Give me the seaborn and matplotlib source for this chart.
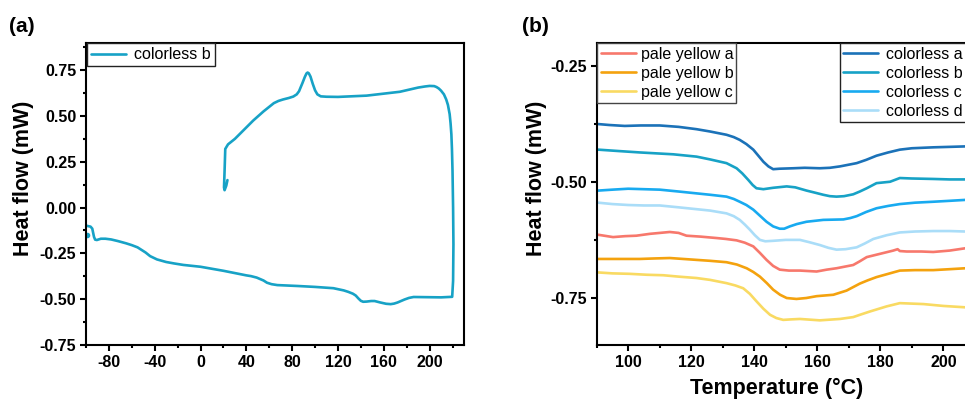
import numpy as np
import pandas as pd
import matplotlib
matplotlib.use("Agg")
import matplotlib.pyplot as plt
from matplotlib.ticker import MultipleLocator
from matplotlib.lines import Line2D
import seaborn as sns

# ---------------- data: panel (a) ----------------
a_temp = [23.5, 22.5, 21.0, 20.5, 21.0, 21.6, 24, 30, 38, 46, 55, 60, 64, 68, 72, 77, 81, 84, 86,
          89, 91, 92.5, 93.5, 94.5, 96, 98, 100, 102, 105, 110, 120, 145, 174, 190, 196, 200, 204,
          206, 208, 210, 212.5, 214.5, 216, 217.5, 218.3, 219, 219.5, 220, 220.5,
          220.8, 220.5, 219.7, 210, 186, 182, 178, 175, 172, 169, 166, 162, 157, 152, 149, 145,
          142, 140, 138, 135.5, 133, 129, 125, 116, 100, 85, 67, 62, 58, 55, 52, 49, 44, 40, 20,
          0, -15, -23, -30, -38, -44, -48, -55, -60, -65, -72, -78, -83, -87, -90.5, -92, -93,
          -94.5, -96, -99, -100]
a_flow = [0.15, 0.12, 0.095, 0.11, 0.2, 0.32, 0.345, 0.375, 0.425, 0.475, 0.525, 0.55, 0.57,
          0.582, 0.59, 0.598, 0.606, 0.618, 0.635, 0.68, 0.712, 0.732, 0.737, 0.733, 0.715, 0.675,
          0.64, 0.618, 0.607, 0.605, 0.604, 0.611, 0.632, 0.655, 0.661, 0.664, 0.663, 0.658, 0.65,
          0.638, 0.618, 0.59, 0.56, 0.51, 0.46, 0.4, 0.32, 0.2, 0.0,
          -0.2, -0.4, -0.487, -0.49, -0.488, -0.493, -0.502, -0.51, -0.518, -0.524, -0.527,
          -0.525, -0.518, -0.51, -0.51, -0.513, -0.514, -0.509, -0.497, -0.48, -0.47, -0.46,
          -0.452, -0.44, -0.433, -0.428, -0.423, -0.418, -0.41, -0.398, -0.39, -0.382, -0.374,
          -0.37, -0.345, -0.323, -0.313, -0.305, -0.297, -0.283, -0.265, -0.245, -0.217, -0.205,
          -0.195, -0.183, -0.174, -0.170, -0.170, -0.177, -0.175, -0.16, -0.115, -0.104, -0.1,
          -0.098]
dot_temp = [-98.8]
dot_flow = [-0.15]

# ---------------- data: panel (b) ----------------
ca_temp = [90.5, 94, 98.9, 104, 110, 116, 121.7, 126, 131.2, 133.5, 135.4, 137.5, 139.7, 141.3, 142.9,
           144.5, 146, 148, 152.4, 156, 160.8, 164, 167.2, 172.5, 175.5, 178.8, 182.5, 186.2, 190,
           196.8, 202, 207]
ca_flow = [-0.375, -0.377, -0.379, -0.378, -0.378, -0.381, -0.386, -0.391, -0.398, -0.403, -0.409,
           -0.418, -0.430, -0.443, -0.456, -0.466, -0.472, -0.471, -0.470, -0.469, -0.470, -0.469,
           -0.466, -0.459, -0.452, -0.443, -0.436, -0.430, -0.427, -0.425, -0.424, -0.423]

cb_temp = [90.5, 97, 103.7, 109, 114.3, 121.7, 126, 131.2, 134.4, 136.2, 138.1, 139.5, 140.7, 142.9,
           146, 150.3, 153, 156.6, 159, 161.9, 164, 166.1, 168.5, 171.4, 173.5, 175.7, 178.8,
           183.1, 186.2, 190, 196.8, 202, 207]
cb_flow = [-0.430, -0.433, -0.436, -0.438, -0.440, -0.445, -0.451, -0.459, -0.470, -0.481, -0.495,
           -0.506, -0.513, -0.515, -0.512, -0.509, -0.511, -0.518, -0.522, -0.527, -0.530, -0.531,
           -0.530, -0.526, -0.520, -0.513, -0.502, -0.499, -0.491, -0.492, -0.493, -0.494, -0.494]

cc_temp = [90.5, 95, 100, 105, 110, 116, 121.7, 126, 131.2, 133.5, 135.4, 137.5, 139.7, 141.8,
           143.9, 146, 148.1, 149.5, 151.3, 153.5, 156.6, 161.9, 168.3, 170.5, 172.5, 175.5,
           178.8, 182.5, 186.2, 191, 196.8, 202, 207]
cc_flow = [-0.518, -0.516, -0.514, -0.515, -0.516, -0.520, -0.524, -0.527, -0.531, -0.536, -0.542,
           -0.549, -0.559, -0.572, -0.585, -0.595, -0.600, -0.600, -0.595, -0.590, -0.585, -0.581,
           -0.580, -0.577, -0.573, -0.564, -0.556, -0.551, -0.547, -0.544, -0.542, -0.540, -0.538]

cd_temp = [90.5, 95, 100, 105, 110, 116, 121.7, 126, 131.2, 133.5, 135.4, 137, 138.6, 140.2,
           141.8, 143.5, 146, 150, 154.5, 157.5, 160.8, 163.5, 166.1, 169, 172.5, 175, 177.8,
           182, 186.2, 191, 196.8, 202, 207]
cd_flow = [-0.544, -0.547, -0.549, -0.550, -0.550, -0.554, -0.558, -0.561, -0.567, -0.573, -0.581,
           -0.591, -0.602, -0.614, -0.624, -0.627, -0.626, -0.624, -0.624, -0.629, -0.635, -0.641,
           -0.645, -0.644, -0.640, -0.632, -0.622, -0.614, -0.608, -0.606, -0.605, -0.605, -0.606]

pa_temp = [90.5, 95.2, 99, 102.6, 106.9, 113.2, 116, 118.5, 123, 128, 131, 134.4, 137, 139.7, 141.8,
           143.9, 146, 148.1, 151, 154.5, 159.8, 163, 166.1, 171.4, 173.5, 175.7, 179.9, 184.1,
           185.5, 186.2, 188.4, 193, 196.8, 202, 207]
pa_flow = [-0.613, -0.618, -0.616, -0.615, -0.611, -0.607, -0.609, -0.615, -0.617, -0.620, -0.622,
           -0.625, -0.630, -0.638, -0.652, -0.667, -0.680, -0.688, -0.690, -0.690, -0.692, -0.688,
           -0.685, -0.678, -0.670, -0.661, -0.654, -0.647, -0.644, -0.648, -0.649, -0.649, -0.650,
           -0.647, -0.642]

pb_temp = [90.5, 97, 103.7, 108, 113.2, 121.7, 126, 131.2, 134.5, 137.6, 139.7, 141.8, 144, 146,
           148.2, 150.3, 153.4, 156.5, 159.8, 165.1, 169.3, 173.5, 176, 178.8, 182.5, 186.2,
           191, 196.8, 202, 207]
pb_flow = [-0.665, -0.665, -0.665, -0.664, -0.663, -0.667, -0.669, -0.672, -0.677, -0.685, -0.693,
           -0.703, -0.717, -0.731, -0.742, -0.749, -0.751, -0.749, -0.745, -0.742, -0.733, -0.718,
           -0.711, -0.704, -0.697, -0.690, -0.689, -0.689, -0.687, -0.685]

pc_temp = [90.5, 95, 100.5, 106, 111.1, 116, 121.7, 126, 131.2, 134, 136.5, 138.6, 140.7, 142.9,
           145, 147, 149.2, 151.5, 154.5, 160.8, 167.2, 171.4, 174, 176.7, 182, 186.2, 193.7,
           200, 207]
pc_flow = [-0.694, -0.696, -0.697, -0.699, -0.700, -0.703, -0.706, -0.710, -0.717, -0.722, -0.728,
           -0.740, -0.756, -0.772, -0.785, -0.792, -0.796, -0.795, -0.794, -0.797, -0.794, -0.790,
           -0.784, -0.778, -0.767, -0.760, -0.762, -0.766, -0.769]

b_series = [
    ("colorless a", ca_temp, ca_flow, "#1B72B8"),
    ("colorless b", cb_temp, cb_flow, "#17A2C6"),
    ("colorless c", cc_temp, cc_flow, "#18AAF0"),
    ("colorless d", cd_temp, cd_flow, "#AADDF8"),
    ("pale yellow a", pa_temp, pa_flow, "#F7786C"),
    ("pale yellow b", pb_temp, pb_flow, "#F4A20E"),
    ("pale yellow c", pc_temp, pc_flow, "#F9DA62"),
]

# ---------------- style ----------------
sns.set_theme(style="ticks")
plt.rcParams["font.family"] = ["Liberation Sans", "DejaVu Sans"]
plt.rcParams["axes.unicode_minus"] = False
plt.rcParams["text.color"] = "black"
plt.rcParams["axes.labelcolor"] = "black"
plt.rcParams["axes.linewidth"] = 1.5
plt.rcParams["xtick.major.width"] = 1.5
plt.rcParams["ytick.major.width"] = 1.5
plt.rcParams["xtick.minor.width"] = 1.5
plt.rcParams["ytick.minor.width"] = 1.5
plt.rcParams["xtick.major.size"] = 4
plt.rcParams["ytick.major.size"] = 4
plt.rcParams["xtick.minor.size"] = 2.5
plt.rcParams["ytick.minor.size"] = 2.5
plt.rcParams["xtick.direction"] = "out"
plt.rcParams["ytick.direction"] = "out"
plt.rcParams["axes.edgecolor"] = "black"
plt.rcParams["xtick.color"] = "black"
plt.rcParams["ytick.color"] = "black"
plt.rcParams["lines.solid_joinstyle"] = "round"

fig = plt.figure(figsize=(9.65, 4.0), dpi=100)
ax1 = fig.add_axes([0.0891, 0.1375, 0.3917, 0.7558])
ax2 = fig.add_axes([0.6183, 0.1375, 0.3919, 0.7558])

tick_fs = 11.5
lw = 1.9

# ---------------- panel (a) ----------------
dfa = pd.DataFrame({"T": a_temp, "HF": a_flow})
sns.lineplot(data=dfa, x="T", y="HF", sort=False, estimator=None, ax=ax1,
             color="#17A2C6", lw=lw, label="colorless b")
ax1.plot(dot_temp, dot_flow, "o", color="#17A2C6", ms=3)
ax1.set_xlim(-100, 230)
ax1.set_ylim(-0.75, 0.9)
ax1.set_xticks(np.arange(-80, 201, 40))
ax1.xaxis.set_minor_locator(MultipleLocator(20))
yt = np.arange(-0.75, 0.76, 0.25)
ax1.set_yticks(yt)
ax1.set_yticklabels([f"{v:.2f}" for v in yt])
ax1.yaxis.set_minor_locator(MultipleLocator(0.125))
ax1.set_xlabel("")
ax1.set_ylabel("Heat flow (mW)", fontsize=15.5, fontweight="bold", va="center")
ax1.yaxis.set_label_coords(-0.164, 0.551)
ax1.tick_params(labelsize=tick_fs, pad=3)
for lab in ax1.get_xticklabels() + ax1.get_yticklabels():
    lab.set_fontweight("bold")
leg1 = ax1.legend(handles=[Line2D([], [], color="#17A2C6", lw=lw)], labels=["colorless b"],
                  loc="upper left", bbox_to_anchor=(0, 1), borderaxespad=0.05,
                  fontsize=11.5, frameon=True, fancybox=False, framealpha=1,
                  edgecolor="#222222", handlelength=2.2, handletextpad=0.5,
                  borderpad=0.25)
leg1.get_frame().set_linewidth(1.0)

# ---------------- panel (b) ----------------
handles = {}
for name, t, f, c in b_series:
    d = pd.DataFrame({"T": t, "HF": f})
    sns.lineplot(data=d, x="T", y="HF", sort=False, estimator=None, ax=ax2, color=c, lw=lw)
    handles[name] = Line2D([], [], color=c, lw=lw)

ax2.set_xlim(90, 210)
ax2.set_ylim(-0.85, -0.2)
ax2.set_xticks(np.arange(100, 201, 20))
ax2.xaxis.set_minor_locator(MultipleLocator(10))
ax2.set_yticks([-0.75, -0.5, -0.25])
ax2.set_yticklabels(["-0.75", "-0.50", "-0.25"])
ax2.yaxis.set_minor_locator(MultipleLocator(0.125))
ax2.set_xlabel("")
ax2.set_ylabel("Heat flow (mW)", fontsize=15.5, fontweight="bold", va="center")
ax2.yaxis.set_label_coords(-0.1586, 0.551)
ax2.tick_params(labelsize=tick_fs, pad=3)
for lab in ax2.get_xticklabels() + ax2.get_yticklabels():
    lab.set_fontweight("bold")

py_names = ["pale yellow a", "pale yellow b", "pale yellow c"]
cl_names = ["colorless a", "colorless b", "colorless c", "colorless d"]
legA = ax2.legend(handles=[handles[n] for n in py_names], labels=py_names,
                  loc="upper left", bbox_to_anchor=(0, 1), borderaxespad=0.05,
                  fontsize=11.5, frameon=True, fancybox=False, framealpha=1,
                  edgecolor="#444444", handlelength=2.2, handletextpad=0.3,
                  borderpad=0.2, labelspacing=0.25)
legA.get_frame().set_linewidth(1.0)
ax2.add_artist(legA)
legB = ax2.legend(handles=[handles[n] for n in cl_names], labels=cl_names,
                  loc="upper left", bbox_to_anchor=(0.6415, 1), borderaxespad=0.05,
                  fontsize=11.5, frameon=True, fancybox=False, framealpha=1,
                  edgecolor="#222222", handlelength=2.2, handletextpad=0.5,
                  borderpad=0.2, labelspacing=0.25)
legB.get_frame().set_linewidth(1.0)

fig.text(776.5 / 965, 1 - 388 / 400, "Temperature (°C)", fontsize=15.5, fontweight="bold",
         ha="center", va="center")
fig.text(21.7 / 965, 1 - 26 / 400, "(a)", fontsize=15, fontweight="bold", ha="center", va="center")
fig.text(535.8 / 965, 1 - 26 / 400, "(b)", fontsize=15, fontweight="bold", ha="center", va="center")

fig.savefig("out.png", dpi=100)
